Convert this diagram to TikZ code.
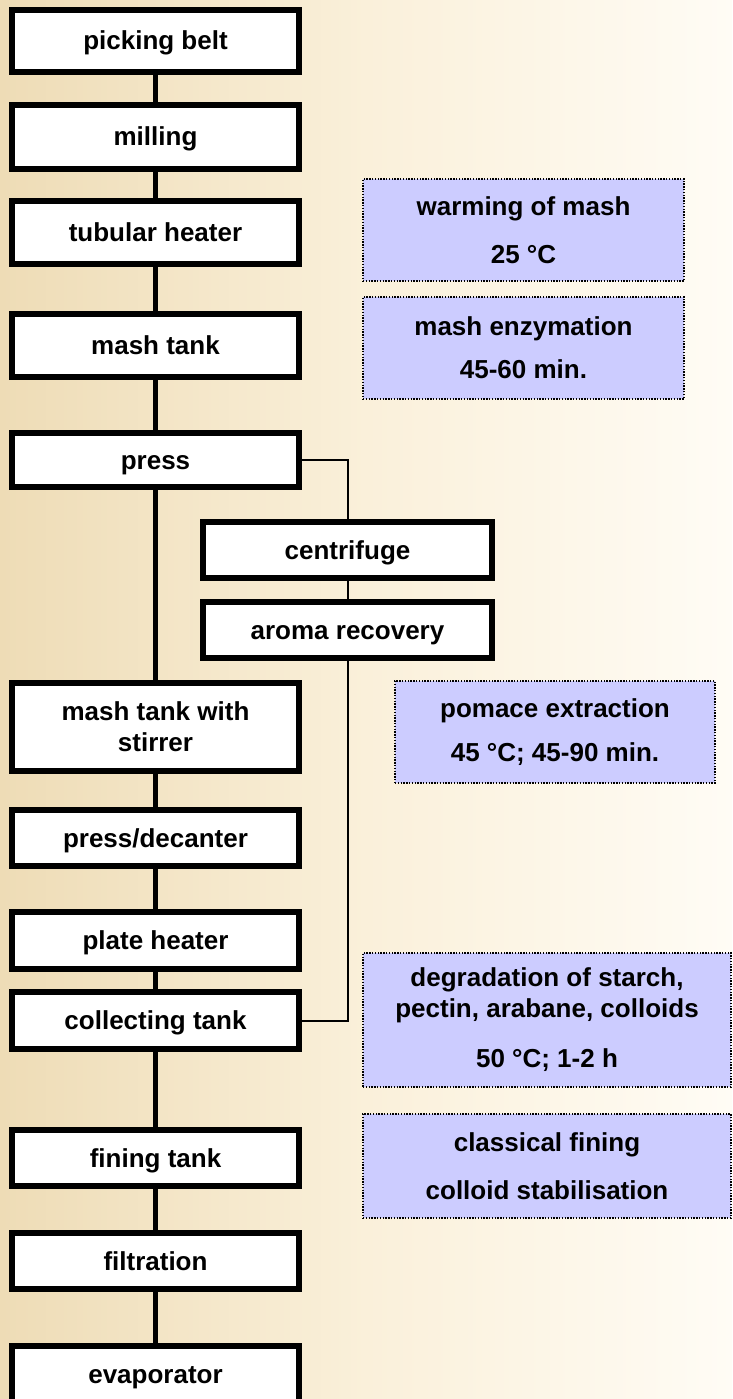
\documentclass[tikz,border=0pt]{standalone}
\usepackage{fontspec}
\setmainfont{Liberation Sans}
\definecolor{bgleft}{RGB}{238,220,182}
\definecolor{bgmid}{RGB}{250,240,218}
\definecolor{bgright}{RGB}{255,252,245}
\definecolor{notefill}{RGB}{204,204,255}
\begin{document}
\begin{tikzpicture}[x=1pt,y=-1pt,
  every node/.style={font=\bfseries\fontsize{26}{31}\selectfont, inner sep=0pt, outer sep=0pt},
  boxbase/.style={draw=black, fill=white, line width=6pt, rectangle, align=center},
  stepbox/.style={boxbase, minimum width=287pt, text height=18pt, text depth=0pt},
  twolinebox/.style={boxbase, minimum width=287pt},
  sidebox/.style={boxbase, minimum width=289pt, minimum height=56pt,
    text height=18pt, text depth=0pt},
  notebox/.style={draw=black, fill=notefill, line width=1.4pt,
    dash pattern=on 1.4pt off 1.4pt, rectangle, align=center},
  spine/.style={line width=5pt, draw=black},
  thinline/.style={line width=2pt, draw=black}]
\useasboundingbox (0,0) rectangle (732,1399);
\clip (0,0) rectangle (732,1399);
\shade[left color=bgleft, right color=bgright, middle color=bgmid]
  (0,0) rectangle (732,1399);

% main column
\node[stepbox, minimum height=62pt] (pick) at (155.5,41) {picking belt};
\node[stepbox, minimum height=64pt] (mill) at (155.5,137) {milling};
\node[stepbox, minimum height=63pt] (tube) at (155.5,232.5) {tubular heater};
\node[stepbox, minimum height=63pt] (mtank) at (155.5,345.5) {mash tank};
\node[stepbox, minimum height=54pt] (press) at (155.5,460) {press};
\node[twolinebox, minimum height=88pt] (stir) at (155.5,727) {mash tank with\\stirrer};
\node[stepbox, minimum height=56pt] (decant) at (155.5,838) {press/decanter};
\node[stepbox, minimum height=57pt] (plate) at (155.5,940.5) {plate heater};
\node[stepbox, minimum height=57pt] (coll) at (155.5,1020.5) {collecting tank};
\node[stepbox, minimum height=56pt] (fine) at (155.5,1158) {fining tank};
\node[stepbox, minimum height=56pt] (filt) at (155.5,1261) {filtration};
\node[stepbox, minimum height=56pt] (evap) at (155.5,1374) {evaporator};

% side branch
\node[sidebox] (centr) at (347.5,550) {centrifuge};
\node[sidebox] (aroma) at (347.5,630) {aroma recovery};

% notes
\node[notebox, minimum width=321pt, minimum height=102pt] (n1) at (523.5,230)
  {warming of mash\\[17pt]25 °C};
\node[notebox, minimum width=321pt, minimum height=102pt] (n2) at (523.5,348)
  {mash enzymation\\[12pt]45-60 min.};
\node[notebox, minimum width=320pt, minimum height=102pt] (n3) at (555,732)
  {pomace extraction\\[13pt]45 °C; 45-90 min.};
\node[notebox, minimum width=368pt, minimum height=134pt] (n4) at (547,1020)
  {degradation of starch,\\pectin, arabane, colloids\\[19pt]50 °C; 1-2 h};
\node[notebox, minimum width=368pt, minimum height=104pt] (n5) at (547,1166)
  {classical fining\\[17pt]colloid stabilisation};

% spine connectors
\draw[spine] (pick.south) -- (mill.north);
\draw[spine] (mill.south) -- (tube.north);
\draw[spine] (tube.south) -- (mtank.north);
\draw[spine] (mtank.south) -- (press.north);
\draw[spine] (press.south) -- (stir.north);
\draw[spine] (stir.south) -- (decant.north);
\draw[spine] (decant.south) -- (plate.north);
\draw[spine] (plate.south) -- (coll.north);
\draw[spine] (coll.south) -- (fine.north);
\draw[spine] (fine.south) -- (filt.north);
\draw[spine] (filt.south) -- (evap.north);

% branch connectors
\draw[thinline] (press.east) -| (centr.north);
\draw[thinline] (centr.south) -- (aroma.north);
\draw[thinline] (aroma.south) |- (coll.east);
\end{tikzpicture}
\end{document}
